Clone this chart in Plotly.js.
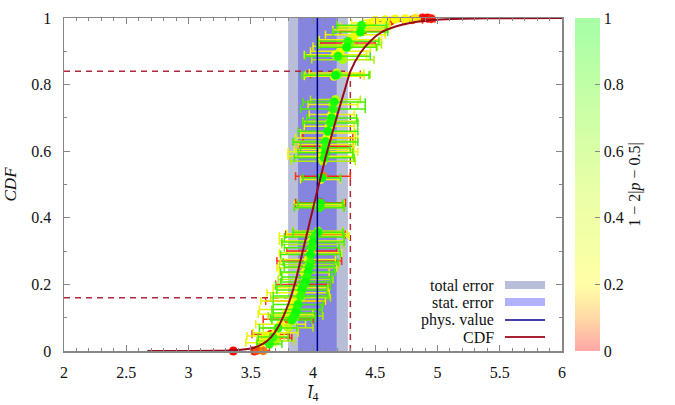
<!DOCTYPE html>
<html>
<head>
<meta charset="utf-8">
<script src="https://cdn.plot.ly/plotly-3.0.1.min.js"></script>
<style>
body { margin: 0; background: #fff; }
#chart { width: 675px; height: 405px; }
</style>
</head>
<body>
<div id="chart"></div>
<script>
// cumulative distribution
var cdfX = [2.67, 3.20, 3.40, 3.52, 3.60, 3.66, 3.72, 3.78, 3.82, 3.86, 3.90, 3.95, 4.00, 4.05, 4.10, 4.15, 4.20, 4.26, 4.30, 4.38, 4.46, 4.54, 4.67, 4.81, 4.94, 5.12, 5.40, 6.00];
var cdfY = [0, 0.0005, 0.003, 0.009, 0.022, 0.040, 0.072, 0.120, 0.160, 0.210, 0.272, 0.350, 0.428, 0.505, 0.580, 0.648, 0.715, 0.790, 0.840, 0.895, 0.930, 0.955, 0.975, 0.987, 0.993, 0.997, 0.999, 1];

var physValue = 4.035;
var totalErr = [3.80, 4.28];
var statErr = [3.88, 4.19];
var quantLevels = [0.16, 0.84];
var quantX = [3.80, 4.30];

// fits, split by colour value 1-2|p-0.5|
var redX = [3.36, 3.53, 3.55, 3.60, 3.71, 3.66, 3.80, 3.86, 3.92, 3.97, 3.99, 4.02, 4.06, 4.08, 4.10, 4.12, 4.18, 4.28, 4.40, 4.62, 4.80, 4.88, 4.92, 4.95];
var redY = [0.000, 0.000, 0.002, 0.001, 0.039, 0.050, 0.095, 0.150, 0.200, 0.270, 0.300, 0.350, 0.445, 0.525, 0.615, 0.640, 0.830, 0.925, 0.960, 0.990, 0.995, 1.000, 1.000, 0.998];
var redE = [0, 0, 0.04, 0.05, 0.12, 0.15, 0.20, 0.24, 0.22, 0.26, 0.20, 0.24, 0.20, 0.22, 0.22, 0.20, 0.20, 0.22, 0.18, 0.12, 0.08, 0.05, 0.04, 0.03];
var redC = [0.00, 0.02, 0.05, 0.08, 0.10, 0.04, 0.06, 0.03, 0.07, 0.02, 0.09, 0.05, 0.03, 0.08, 0.04, 0.06, 0.02, 0.05, 0.07, 0.03, 0.06, 0.01, 0.00, 0.02];

var yelX = [3.58, 3.62, 3.70, 3.74, 3.78, 3.82, 3.84, 3.88, 3.90, 3.93, 3.95, 3.96, 3.98, 3.99, 4.01, 4.03, 4.05, 4.06, 4.06, 4.08, 4.09, 4.10, 4.11, 4.12, 4.13, 4.15, 4.16, 4.17, 4.19, 4.18, 4.22, 4.26, 4.30, 4.34, 4.38, 4.42, 4.46, 4.50, 4.58, 4.66, 4.74, 4.82];
var yelY = [0.025, 0.045, 0.055, 0.080, 0.110, 0.125, 0.150, 0.175, 0.190, 0.235, 0.250, 0.275, 0.295, 0.330, 0.345, 0.352, 0.440, 0.515, 0.585, 0.598, 0.605, 0.620, 0.640, 0.655, 0.675, 0.710, 0.740, 0.825, 0.835, 0.890, 0.900, 0.915, 0.935, 0.950, 0.965, 0.975, 0.985, 0.993, 0.995, 0.997, 0.998, 0.999];
var yelE = [0.12, 0.15, 0.18, 0.20, 0.22, 0.25, 0.26, 0.25, 0.22, 0.20, 0.24, 0.22, 0.25, 0.26, 0.28, 0.24, 0.20, 0.16, 0.26, 0.28, 0.24, 0.22, 0.25, 0.22, 0.20, 0.18, 0.20, 0.24, 0.22, 0.25, 0.24, 0.26, 0.25, 0.24, 0.22, 0.20, 0.15, 0.10, 0.08, 0.06, 0.05, 0.04];
var yelC = [0.22, 0.30, 0.25, 0.28, 0.21, 0.33, 0.26, 0.24, 0.30, 0.22, 0.27, 0.35, 0.23, 0.29, 0.25, 0.31, 0.26, 0.22, 0.28, 0.24, 0.33, 0.21, 0.27, 0.30, 0.25, 0.23, 0.29, 0.26, 0.32, 0.24, 0.28, 0.22, 0.30, 0.26, 0.23, 0.27, 0.25, 0.21, 0.24, 0.22, 0.20, 0.18];

var ygX = [3.70, 3.80, 3.86, 3.90, 3.94, 3.97, 4.00, 4.04, 4.06, 4.08, 4.10, 4.14, 4.18, 4.20, 4.24, 4.30, 4.40];
var ygY = [0.030, 0.070, 0.105, 0.160, 0.215, 0.260, 0.320, 0.360, 0.435, 0.570, 0.630, 0.690, 0.755, 0.830, 0.875, 0.920, 0.970];
var ygE = [0.15, 0.20, 0.22, 0.24, 0.22, 0.24, 0.25, 0.20, 0.18, 0.26, 0.24, 0.22, 0.20, 0.26, 0.25, 0.25, 0.20];
var ygC = [0.55, 0.48, 0.62, 0.51, 0.66, 0.58, 0.45, 0.60, 0.70, 0.52, 0.64, 0.57, 0.49, 0.68, 0.55, 0.61, 0.50];

var grnX = [4.39, 4.38, 4.28, 4.27, 4.20, 4.18, 4.17, 4.16, 4.15, 4.14, 4.12, 4.10, 4.10, 4.10, 4.09, 4.07, 4.06, 4.05, 4.04, 4.01, 4.00, 3.99, 3.98, 3.98, 3.97, 3.96, 3.95, 3.94, 3.92, 3.91, 3.90, 3.88, 3.87, 3.86, 3.84, 3.83, 3.72, 3.68, 3.65];
var grnY = [0.978, 0.958, 0.930, 0.912, 0.885, 0.828, 0.748, 0.727, 0.700, 0.685, 0.660, 0.628, 0.610, 0.595, 0.580, 0.520, 0.444, 0.430, 0.356, 0.342, 0.327, 0.310, 0.290, 0.267, 0.252, 0.237, 0.222, 0.207, 0.195, 0.183, 0.165, 0.140, 0.125, 0.114, 0.100, 0.093, 0.069, 0.042, 0.021];
var grnE = [0.20, 0.22, 0.25, 0.24, 0.26, 0.27, 0.25, 0.26, 0.20, 0.22, 0.24, 0.26, 0.20, 0.22, 0.24, 0.15, 0.18, 0.20, 0.20, 0.24, 0.25, 0.22, 0.24, 0.22, 0.20, 0.22, 0.20, 0.20, 0.22, 0.20, 0.22, 0.20, 0.20, 0.18, 0.18, 0.16, 0.15, 0.12, 0.10];
var grnC = [0.90, 0.95, 0.88, 0.97, 0.92, 1.00, 0.94, 0.89, 0.96, 0.91, 0.98, 0.93, 0.87, 0.99, 0.92, 1.00, 0.95, 0.90, 0.97, 0.88, 0.94, 0.91, 0.99, 0.86, 0.93, 0.96, 0.89, 0.98, 0.92, 0.95, 0.87, 0.94, 0.90, 0.97, 0.91, 0.93, 0.88, 0.85, 0.90];

var cbTicks = [0, 0.2, 0.4, 0.6, 0.8, 1];

var markerScale = [[0, "rgb(255,0,0)"], [0.1, "rgb(255,150,0)"], [0.2, "rgb(255,255,0)"], [0.5, "rgb(185,255,0)"], [1, "rgb(0,255,0)"]];
// the colour bar in the picture is a washed out copy of the same scale
var paleScale = [[0, "rgb(255,166,166)"], [0.1, "rgb(255,218,166)"], [0.2, "rgb(255,255,166)"], [0.5, "rgb(231,255,166)"], [1, "rgb(166,255,166)"]];

var serif = "Liberation Serif";
var axisGrey = "rgb(135,135,135)";
var curveRed = "rgb(150,10,30)";
var dashRed = "rgb(175,40,60)";
var txt = { family: serif, size: 16, color: "#111" };

function pointTrace(xs, ys, errs, cs, barColor) {
    return {
        type: "scatter",
        mode: "markers",
        x: xs,
        y: ys,
        error_x: { type: "data", array: errs, visible: true, color: barColor, thickness: 1.5, width: 4 },
        marker: { size: 9, color: cs, colorscale: markerScale, cmin: 0, cmax: 1, showscale: false },
        cliponaxis: false,
        showlegend: false,
        hoverinfo: "x+y"
    };
}

var data = [
    pointTrace(redX, redY, redE, redC, "rgba(255,30,0,0.9)"),
    pointTrace(yelX, yelY, yelE, yelC, "rgb(235,245,0)"),
    pointTrace(ygX, ygY, ygE, ygC, "rgb(175,240,0)"),
    pointTrace(grnX, grnY, grnE, grnC, "rgb(70,240,0)"),
    {
        // only here to carry the colour bar
        type: "scatter",
        mode: "markers",
        x: [5.5, 5.5],
        y: [0.5, 0.5],
        marker: {
            size: 1, opacity: 0, color: [0, 1], colorscale: paleScale, cmin: 0, cmax: 1, showscale: true,
            colorbar: {
                x: 1.026, xanchor: "left", y: 0.5, yanchor: "middle", len: 1, thickness: 25,
                outlinewidth: 0, xpad: 0, ypad: 0,
                tickvals: cbTicks, ticks: "inside", ticklen: 5, tickcolor: axisGrey,
                tickfont: txt,
                title: { text: "1 − 2|<i>p</i> − 0.5|", side: "right", font: txt }
            }
        },
        showlegend: false,
        hoverinfo: "skip"
    },
    {
        type: "scatter",
        mode: "lines",
        x: [physValue, physValue],
        y: [0, 1],
        line: { color: "rgb(0,0,140)", width: 1.5 },
        showlegend: false,
        hoverinfo: "skip"
    },
    {
        type: "scatter",
        mode: "lines",
        x: cdfX,
        y: cdfY,
        line: { color: curveRed, width: 2, shape: "spline", smoothing: 0.6 },
        showlegend: false,
        hoverinfo: "skip"
    }
];

var shapes = [
    { type: "rect", xref: "x", yref: "y", x0: totalErr[0], x1: totalErr[1], y0: 0, y1: 1, fillcolor: "rgb(184,189,216)", line: { width: 0 }, layer: "below" },
    { type: "rect", xref: "x", yref: "y", x0: statErr[0], x1: statErr[1], y0: 0, y1: 1, fillcolor: "rgb(133,133,224)", line: { width: 0 }, layer: "below" }
];
for (var i = 0; i < quantLevels.length; i++) {
    shapes.push({ type: "line", xref: "x", yref: "y", x0: 2, x1: quantX[i], y0: quantLevels[i], y1: quantLevels[i], line: { color: dashRed, width: 1.5, dash: "6px,5px" }, layer: "below" });
}
shapes.push({ type: "line", xref: "x", yref: "y", x0: quantX[1], x1: quantX[1], y0: 0, y1: quantLevels[1], line: { color: dashRed, width: 1.5, dash: "6px,5px" }, layer: "below" });

// hand made key, text on the left and sample on the right
var keyNames = ["total error", "stat. error", "phys. value", "CDF"];
var keyY = [0.198, 0.147, 0.093, 0.042];
var annotations = [];
for (var k = 0; k < keyNames.length; k++) {
    annotations.push({
        xref: "paper", yref: "paper", x: 0.8655, y: keyY[k], xanchor: "right", yanchor: "middle",
        text: keyNames[k], showarrow: false, borderpad: 0, font: { family: serif, size: 16, color: "#111" }
    });
}
shapes.push({ type: "rect", xref: "paper", yref: "paper", x0: 0.8855, x1: 0.9659, y0: keyY[0] - 0.012, y1: keyY[0] + 0.012, fillcolor: "rgb(184,189,216)", line: { width: 0 } });
shapes.push({ type: "rect", xref: "paper", yref: "paper", x0: 0.8855, x1: 0.9659, y0: keyY[1] - 0.012, y1: keyY[1] + 0.012, fillcolor: "rgb(176,176,255)", line: { width: 0 } });
shapes.push({ type: "line", xref: "paper", yref: "paper", x0: 0.8855, x1: 0.9659, y0: keyY[2], y1: keyY[2], line: { color: "rgb(0,0,140)", width: 1.5 } });
shapes.push({ type: "line", xref: "paper", yref: "paper", x0: 0.8855, x1: 0.9659, y0: keyY[3], y1: keyY[3], line: { color: "rgb(170,35,50)", width: 2 } });

var layout = {
    width: 675,
    height: 405,
    margin: { l: 64, r: 113, t: 18, b: 54 },
    paper_bgcolor: "#fff",
    plot_bgcolor: "#fff",
    showlegend: false,
    font: txt,
    xaxis: {
        range: [2, 6],
        dtick: 0.5,
        tick0: 2,
        ticks: "inside",
        ticklen: 6,
        tickwidth: 1,
        tickcolor: axisGrey,
        minor: { dtick: 0.1, ticks: "inside", ticklen: 3, tickcolor: axisGrey },
        showline: true,
        linecolor: axisGrey,
        linewidth: 1.5,
        mirror: "ticks",
        showgrid: false,
        zeroline: false,
        ticklabelstandoff: 6,
        tickfont: txt,
        title: { text: "<i>l̄</i><sub>4</sub>", font: { family: serif, size: 17, color: "#111" }, standoff: 6 }
    },
    yaxis: {
        range: [0, 1],
        dtick: 0.2,
        tick0: 0,
        ticks: "inside",
        ticklen: 6,
        tickwidth: 1,
        tickcolor: axisGrey,
        minor: { dtick: 0.1, ticks: "inside", ticklen: 3, tickcolor: axisGrey },
        showline: true,
        linecolor: axisGrey,
        linewidth: 1.5,
        mirror: "ticks",
        showgrid: false,
        zeroline: false,
        ticklabelstandoff: 8,
        tickfont: txt,
        title: { text: "<i>CDF</i>", font: { family: serif, size: 17, color: "#111" }, standoff: 10 }
    },
    shapes: shapes,
    annotations: annotations
};

Plotly.newPlot(document.getElementById("chart"), data, layout, { displayModeBar: false, staticPlot: true });
</script>
</body>
</html>
